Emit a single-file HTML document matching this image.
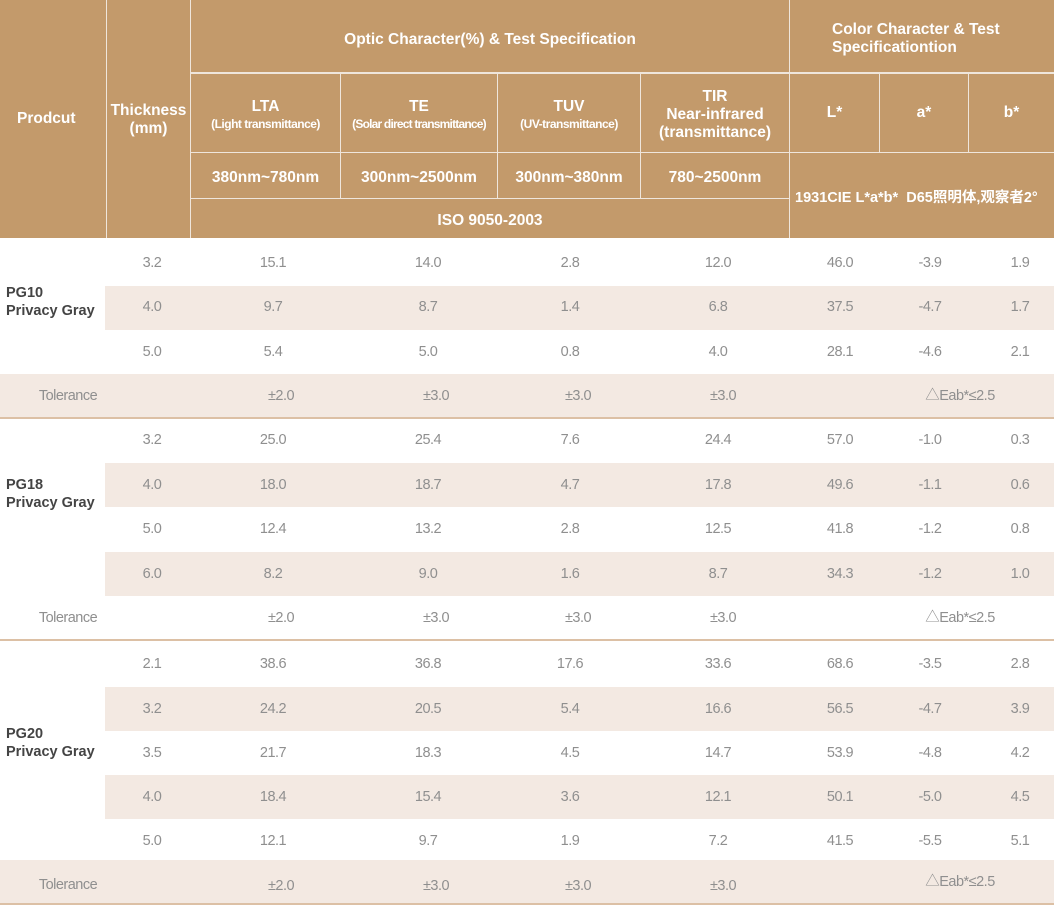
<!DOCTYPE html>
<html><head><meta charset="utf-8"><style>
*{margin:0;padding:0;box-sizing:border-box}
body{width:1054px;height:908px;background:#fff;position:relative;overflow:hidden;font-family:"Liberation Sans","Noto Sans CJK SC",sans-serif}
.h{position:absolute;background:#c39a6b;color:#fff;font-weight:bold;display:flex;align-items:center;justify-content:center;text-align:center;font-size:15.5px;line-height:18px}
.s{font-size:12px;font-weight:bold;line-height:16px;letter-spacing:-0.5px}
.r{position:absolute;left:0;width:1054px;height:44px}
.r span{position:absolute;width:110px;text-align:center;line-height:44px;font-size:14.5px;color:#8f8f8f;letter-spacing:-0.5px}
.st{background:#f3e9e2}
.ln{position:absolute;left:0;width:1054px;height:2px;background:#dcc0a5}
.p{position:absolute;left:6px;font-weight:bold;color:#444;font-size:14.5px;line-height:18px}
</style></head><body>
<div style="position:absolute;left:0;top:0;width:1054px;height:238px;background:#efe6dc"></div>
<div class="h" style="left:0;top:0;width:106px;height:238px;justify-content:flex-start;padding-left:17px">Prodcut</div>
<div class="h" style="left:107px;top:0;width:83px;height:238px;padding-top:2px">Thickness<br>(mm)</div>
<div class="h" style="left:191px;top:0;width:598px;height:72px;padding-top:8px">Optic Character(%) &amp; Test Specification</div>
<div class="h" style="left:790px;top:0;width:264px;height:72px;justify-content:flex-start;padding-left:42px;text-align:left;padding-top:6px">Color Character &amp; Test<br>Specificationtion</div>
<div class="h" style="left:191px;top:74px;width:149px;height:78px;flex-direction:column;padding-top:4px">LTA<span class="s">(Light transmittance)</span></div>
<div class="h" style="left:341px;top:74px;width:156px;height:78px;flex-direction:column;padding-top:4px">TE<span class="s" style="letter-spacing:-0.8px">(Solar direct transmittance)</span></div>
<div class="h" style="left:498px;top:74px;width:142px;height:78px;flex-direction:column;padding-top:4px">TUV<span class="s">(UV-transmittance)</span></div>
<div class="h" style="left:641px;top:74px;width:148px;height:78px;padding-top:4px">TIR<br>Near-infrared<br>(transmittance)</div>
<div class="h" style="left:790px;top:74px;width:89px;height:78px">L*</div>
<div class="h" style="left:880px;top:74px;width:88px;height:78px">a*</div>
<div class="h" style="left:969px;top:74px;width:85px;height:78px">b*</div>
<div class="h" style="left:191px;top:153px;width:149px;height:45px;padding-top:4px">380nm~780nm</div>
<div class="h" style="left:341px;top:153px;width:156px;height:45px;padding-top:4px">300nm~2500nm</div>
<div class="h" style="left:498px;top:153px;width:142px;height:45px;padding-top:4px">300nm~380nm</div>
<div class="h" style="left:641px;top:153px;width:148px;height:45px;padding-top:4px">780~2500nm</div>
<div class="h" style="left:191px;top:199px;width:598px;height:39px;padding-top:4px">ISO 9050-2003</div>
<div class="h" style="left:790px;top:153px;width:264px;height:85px;justify-content:flex-start;padding-left:5px;font-size:14.5px;white-space:nowrap;padding-top:4px">1931CIE L*a*b*&nbsp; D65照明体,观察者2°</div>

<!-- PG10 -->
<div class="r" style="top:241px"><span style="left:97px">3.2</span><span style="left:218px">15.1</span><span style="left:373px">14.0</span><span style="left:515px">2.8</span><span style="left:663px">12.0</span><span style="left:785px">46.0</span><span style="left:875px">-3.9</span><span style="left:965px">1.9</span></div>
<div class="r st" style="top:286px;left:105px;width:949px"></div>
<div class="r" style="top:285px"><span style="left:97px">4.0</span><span style="left:218px">9.7</span><span style="left:373px">8.7</span><span style="left:515px">1.4</span><span style="left:663px">6.8</span><span style="left:785px">37.5</span><span style="left:875px">-4.7</span><span style="left:965px">1.7</span></div>
<div class="r" style="top:330px"><span style="left:97px">5.0</span><span style="left:218px">5.4</span><span style="left:373px">5.0</span><span style="left:515px">0.8</span><span style="left:663px">4.0</span><span style="left:785px">28.1</span><span style="left:875px">-4.6</span><span style="left:965px">2.1</span></div>
<div class="r st" style="top:374px"><span style="left:13px">Tolerance</span><span style="left:226px">±2.0</span><span style="left:381px">±3.0</span><span style="left:523px">±3.0</span><span style="left:668px">±3.0</span><span style="left:895px;width:130px">△Eab*≤2.5</span></div>
<div class="ln" style="top:417px"></div>
<div class="p" style="top:284px">PG10<br>Privacy Gray</div>

<!-- PG18 -->
<div class="r" style="top:418px"><span style="left:97px">3.2</span><span style="left:218px">25.0</span><span style="left:373px">25.4</span><span style="left:515px">7.6</span><span style="left:663px">24.4</span><span style="left:785px">57.0</span><span style="left:875px">-1.0</span><span style="left:965px">0.3</span></div>
<div class="r st" style="top:463px;left:105px;width:949px"></div>
<div class="r" style="top:463px"><span style="left:97px">4.0</span><span style="left:218px">18.0</span><span style="left:373px">18.7</span><span style="left:515px">4.7</span><span style="left:663px">17.8</span><span style="left:785px">49.6</span><span style="left:875px">-1.1</span><span style="left:965px">0.6</span></div>
<div class="r" style="top:507px"><span style="left:97px">5.0</span><span style="left:218px">12.4</span><span style="left:373px">13.2</span><span style="left:515px">2.8</span><span style="left:663px">12.5</span><span style="left:785px">41.8</span><span style="left:875px">-1.2</span><span style="left:965px">0.8</span></div>
<div class="r st" style="top:552px;left:105px;width:949px"></div>
<div class="r" style="top:552px"><span style="left:97px">6.0</span><span style="left:218px">8.2</span><span style="left:373px">9.0</span><span style="left:515px">1.6</span><span style="left:663px">8.7</span><span style="left:785px">34.3</span><span style="left:875px">-1.2</span><span style="left:965px">1.0</span></div>
<div class="r" style="top:596px"><span style="left:13px">Tolerance</span><span style="left:226px">±2.0</span><span style="left:381px">±3.0</span><span style="left:523px">±3.0</span><span style="left:668px">±3.0</span><span style="left:895px;width:130px">△Eab*≤2.5</span></div>
<div class="ln" style="top:639px"></div>
<div class="p" style="top:476px">PG18<br>Privacy Gray</div>

<!-- PG20 -->
<div class="r" style="top:642px"><span style="left:97px">2.1</span><span style="left:218px">38.6</span><span style="left:373px">36.8</span><span style="left:515px">17.6</span><span style="left:663px">33.6</span><span style="left:785px">68.6</span><span style="left:875px">-3.5</span><span style="left:965px">2.8</span></div>
<div class="r st" style="top:687px;left:105px;width:949px"></div>
<div class="r" style="top:687px"><span style="left:97px">3.2</span><span style="left:218px">24.2</span><span style="left:373px">20.5</span><span style="left:515px">5.4</span><span style="left:663px">16.6</span><span style="left:785px">56.5</span><span style="left:875px">-4.7</span><span style="left:965px">3.9</span></div>
<div class="r" style="top:731px"><span style="left:97px">3.5</span><span style="left:218px">21.7</span><span style="left:373px">18.3</span><span style="left:515px">4.5</span><span style="left:663px">14.7</span><span style="left:785px">53.9</span><span style="left:875px">-4.8</span><span style="left:965px">4.2</span></div>
<div class="r st" style="top:775px;left:105px;width:949px"></div>
<div class="r" style="top:775px"><span style="left:97px">4.0</span><span style="left:218px">18.4</span><span style="left:373px">15.4</span><span style="left:515px">3.6</span><span style="left:663px">12.1</span><span style="left:785px">50.1</span><span style="left:875px">-5.0</span><span style="left:965px">4.5</span></div>
<div class="r" style="top:819px"><span style="left:97px">5.0</span><span style="left:218px">12.1</span><span style="left:373px">9.7</span><span style="left:515px">1.9</span><span style="left:663px">7.2</span><span style="left:785px">41.5</span><span style="left:875px">-5.5</span><span style="left:965px">5.1</span></div>
<div class="r st" style="top:860px"><span style="left:13px;top:3px">Tolerance</span><span style="left:226px;top:4px">±2.0</span><span style="left:381px;top:4px">±3.0</span><span style="left:523px;top:4px">±3.0</span><span style="left:668px;top:4px">±3.0</span><span style="left:895px;width:130px;top:0">△Eab*≤2.5</span></div>
<div class="ln" style="top:903px"></div>
<div class="p" style="top:725px">PG20<br>Privacy Gray</div>
</body></html>
